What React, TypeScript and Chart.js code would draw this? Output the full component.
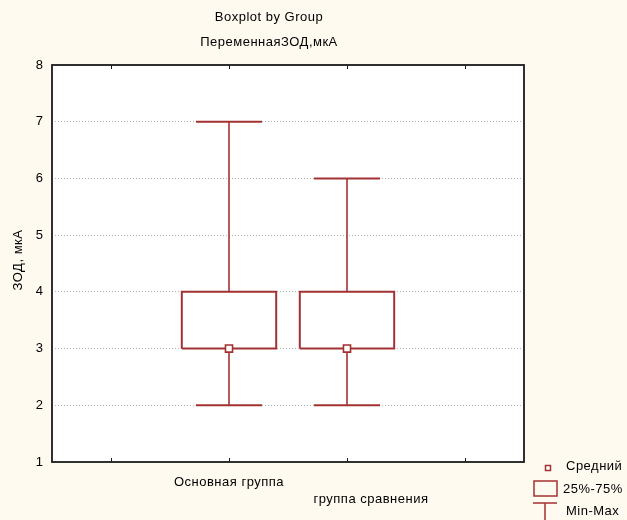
import React, { useEffect, useRef } from "react";
import { Chart, registerables } from "chart.js";

Chart.register(...registerables);

const titleLines = ["Boxplot by Group", "ПеременнаяЗОД,мкА"];
const yAxisTitle = "ЗОД, мкА";
const groups = ["Основная группа", "группа сравнения"];
const groupPos = [2, 3];
const xTickVals = [1, 2, 3, 4];
const minVals = [2, 2];
const q1Vals = [3, 3];
const q3Vals = [4, 4];
const maxVals = [7, 6];
const meanVals = [3, 3];
const yMin = 1;
const yMax = 8;
const legendLabels = ["Средний", "25%-75%", "Min-Max"];

const RED = "#a23232";
const BG = "#fefaf0";
const FONT = '13px "Liberation Sans", Arial, sans-serif';
const BOX_HALF = 0.4;
const CAP_HALF = 0.28;

function drawText(ctx: CanvasRenderingContext2D, text: string, x: number, y: number, align: CanvasTextAlign = "center") {
  ctx.save();
  ctx.font = FONT;
  (ctx as any).letterSpacing = "0.5px";
  ctx.fillStyle = "#000";
  ctx.textAlign = align;
  ctx.textBaseline = "middle";
  ctx.fillText(text, x, y);
  ctx.restore();
}

const decorPlugin = {
  id: "decor",
  beforeDraw(chart: any) {
    const { ctx, chartArea: a } = chart;
    ctx.save();
    ctx.fillStyle = BG;
    ctx.fillRect(0, 0, chart.width, chart.height);
    ctx.fillStyle = "#ffffff";
    ctx.fillRect(a.left, a.top, a.right - a.left, a.bottom - a.top);
    ctx.restore();
  },
  afterDraw(chart: any) {
    const { ctx, chartArea: a } = chart;
    const xs = chart.scales.x;
    // frame
    ctx.save();
    ctx.strokeStyle = "#1a1a1a";
    ctx.lineWidth = 1.8;
    ctx.strokeRect(a.left, a.top, a.right - a.left, a.bottom - a.top);
    // x tick marks inward
    ctx.lineWidth = 1;
    ctx.beginPath();
    xTickVals.forEach((v) => {
      const px = Math.round(xs.getPixelForValue(v)) + 0.5;
      ctx.moveTo(px, a.top);
      ctx.lineTo(px, a.top + 4);
      ctx.moveTo(px, a.bottom);
      ctx.lineTo(px, a.bottom - 4);
    });
    ctx.stroke();
    ctx.restore();

    // titles
    const tx = 269;
    drawText(ctx, titleLines[0], tx, 17);
    drawText(ctx, titleLines[1], tx, 42);

    // x category labels (staggered)
    drawText(ctx, groups[0], xs.getPixelForValue(groupPos[0]), 482);
    drawText(ctx, groups[1], xs.getPixelForValue(groupPos[1]) + 24, 499);

    // y axis title
    ctx.save();
    ctx.translate(18, 260);
    ctx.rotate(-Math.PI / 2);
    drawText(ctx, yAxisTitle, 0, 0);
    ctx.restore();

    // legend
    ctx.save();
    ctx.strokeStyle = RED;
    ctx.fillStyle = "#fff";
    ctx.lineWidth = 1.5;
    ctx.fillRect(545.5, 465.5, 5, 5);
    ctx.strokeRect(545.5, 465.5, 5, 5);
    ctx.lineWidth = 1.5;
    ctx.strokeRect(534, 481, 23, 15);
    ctx.beginPath();
    ctx.moveTo(533, 503);
    ctx.lineTo(557, 503);
    ctx.moveTo(545, 503);
    ctx.lineTo(545, 520);
    ctx.stroke();
    ctx.restore();
    drawText(ctx, legendLabels[0], 566, 466, "left");
    drawText(ctx, legendLabels[1], 563, 489, "left");
    drawText(ctx, legendLabels[2], 566, 511, "left");
  },
};

export default function App() {
  const ref = useRef<HTMLCanvasElement | null>(null);
  useEffect(() => {
    document.body.style.margin = "0";
    const canvas = ref.current;
    if (!canvas) return;

    const datasets: any[] = [];
    datasets.push({
      type: "scatter",
      data: groupPos.map((p, i) => ({ x: p, y: meanVals[i] })),
      pointStyle: "rect",
      pointRadius: 5,
      pointBackgroundColor: "#ffffff",
      pointBorderColor: RED,
      pointBorderWidth: 1.6,
      showLine: false,
      order: 0,
    });
    groupPos.forEach((p, i) => {
      const lineDs = (pts: { x: number; y: number }[], w: number) => ({
        type: "scatter",
        data: pts,
        showLine: true,
        borderColor: RED,
        borderWidth: w,
        pointRadius: 0,
        fill: false,
        order: 1,
      });
      datasets.push(
        lineDs(
          [
            { x: p - BOX_HALF, y: q1Vals[i] },
            { x: p + BOX_HALF, y: q1Vals[i] },
            { x: p + BOX_HALF, y: q3Vals[i] },
            { x: p - BOX_HALF, y: q3Vals[i] },
            { x: p - BOX_HALF, y: q1Vals[i] },
          ],
          2
        )
      );
      datasets.push(lineDs([{ x: p, y: q3Vals[i] }, { x: p, y: maxVals[i] }], 1.6));
      datasets.push(lineDs([{ x: p, y: minVals[i] }, { x: p, y: q1Vals[i] }], 1.6));
      datasets.push(lineDs([{ x: p - CAP_HALF, y: maxVals[i] }, { x: p + CAP_HALF, y: maxVals[i] }], 2));
      datasets.push(lineDs([{ x: p - CAP_HALF, y: minVals[i] }, { x: p + CAP_HALF, y: minVals[i] }], 2));
    });

    const chart = new Chart(canvas, {
      type: "scatter",
      data: { datasets },
      options: {
        responsive: false,
        animation: false,
        events: [],
        layout: { padding: { left: 0, top: 65, right: 103, bottom: 0 } },
        plugins: { legend: { display: false }, tooltip: { enabled: false }, title: { display: false } },
        scales: {
          x: {
            type: "linear",
            min: 0.5,
            max: 4.5,
            grid: { display: false },
            border: { display: false },
            ticks: { display: false },
            afterFit: (s: any) => {
              s.height = 58;
            },
          },
          y: {
            type: "linear",
            min: yMin,
            max: yMax,
            ticks: {
              stepSize: 1,
              padding: 9,
              color: "#000",
              font: { family: '"Liberation Sans", Arial, sans-serif', size: 13 },
            },
            grid: {
              drawTicks: false,
              lineWidth: 1,
              color: (c: any) => (c.tick && (c.tick.value === yMin || c.tick.value === yMax) ? "rgba(0,0,0,0)" : "#b4b4b4"),
            },
            border: { display: false, dash: [1, 2] },
            afterFit: (s: any) => {
              s.width = 52;
            },
          },
        },
      } as any,
      plugins: [decorPlugin],
    });
    return () => chart.destroy();
  }, []);
  return <canvas ref={ref} width={627} height={520} style={{ display: "block" }} />;
}
